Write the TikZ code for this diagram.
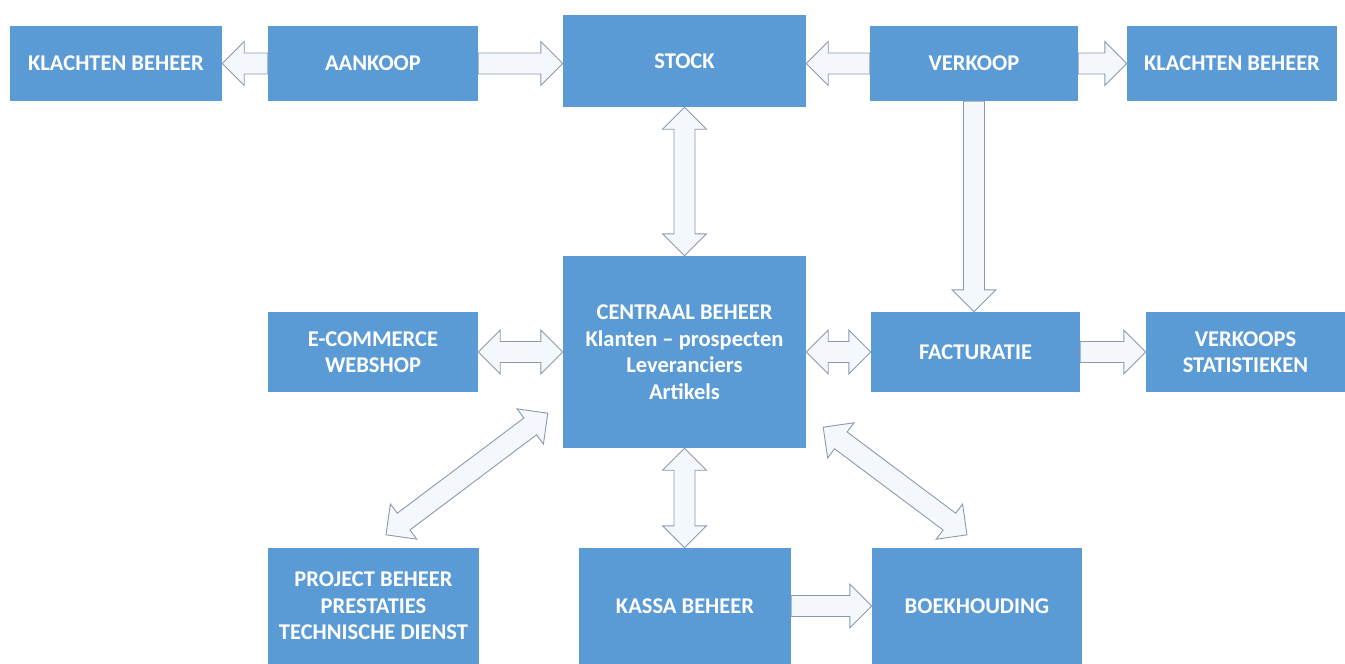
\documentclass[tikz,border=0pt]{standalone}
\usepackage{fontspec}
\setmainfont{Carlito}
\usetikzlibrary{calc}
\definecolor{boxblue}{HTML}{5B9BD5}
\definecolor{arrline}{HTML}{8A9AAE}
\definecolor{arrfill}{HTML}{F4F7FB}
\def\sw{10.5pt}\def\hw{22pt}\def\ahl{22pt}
\newcommand\sarr[2]{%
 \path (#1) coordinate (tS) (#2) coordinate (tE);
 \path ($(tE)!\ahl!(tS)$) coordinate (tH);
 \draw[blockarrow] ($(tS)!\sw!90:(tE)$) -- ($(tH)!\sw!-90:(tS)$) -- ($(tH)!\hw!-90:(tS)$) -- (tE) -- ($(tH)!\hw!90:(tS)$) -- ($(tH)!\sw!90:(tS)$) -- ($(tS)!\sw!-90:(tE)$) -- cycle;}
\newcommand\darr[2]{%
 \path (#1) coordinate (tS) (#2) coordinate (tE);
 \path ($(tS)!\ahl!(tE)$) coordinate (tA) ($(tE)!\ahl!(tS)$) coordinate (tB);
 \draw[blockarrow] (tS) -- ($(tA)!\hw!90:(tE)$) -- ($(tA)!\sw!90:(tE)$) -- ($(tB)!\sw!-90:(tS)$) -- ($(tB)!\hw!-90:(tS)$) -- (tE) -- ($(tB)!\hw!90:(tS)$) -- ($(tB)!\sw!90:(tS)$) -- ($(tA)!\sw!-90:(tE)$) -- ($(tA)!\hw!-90:(tE)$) -- cycle;}
\begin{document}
\begin{tikzpicture}[x=1pt,y=-1pt,
  box/.style={fill=boxblue, text=white, font=\bfseries\fontsize{22.5}{26.5}\selectfont, align=center, inner sep=0pt},
  blockarrow/.style={draw=arrline, fill=arrfill, line width=0.9pt, line join=miter}]
\useasboundingbox (0,0) rectangle (1345,664);
% top row
\node[box, minimum width=212pt, minimum height=75pt] (kl1) at (116,63.5) {KLACHTEN BEHEER};
\node[box, minimum width=210pt, minimum height=75pt] (aankoop) at (373,63.5) {AANKOOP};
\node[box, minimum width=243pt, minimum height=92pt] (stock) at (684.5,61) {STOCK};
\node[box, minimum width=208pt, minimum height=75pt] (verkoop) at (974,63.5) {VERKOOP};
\node[box, minimum width=210pt, minimum height=75pt] (kl2) at (1232,63.5) {KLACHTEN BEHEER};
% middle row
\node[box, minimum width=243pt, minimum height=192pt] (centraal) at (684.5,352) {CENTRAAL BEHEER\\Klanten – prospecten\\Leveranciers\\Artikels};
\node[box, minimum width=210pt, minimum height=80pt] (webshop) at (373,352) {E-COMMERCE\\WEBSHOP};
\node[box, minimum width=209pt, minimum height=80pt] (fact) at (975.5,352) {FACTURATIE};
\node[box, minimum width=199pt, minimum height=80pt] (stats) at (1245.5,352) {VERKOOPS\\STATISTIEKEN};
% bottom row
\node[box, minimum width=211pt, minimum height=116pt] (project) at (373.5,606) {PROJECT BEHEER\\PRESTATIES\\TECHNISCHE DIENST};
\node[box, minimum width=212pt, minimum height=116pt] (kassa) at (685,606) {KASSA BEHEER};
\node[box, minimum width=210pt, minimum height=116pt] (boek) at (977,606) {BOEKHOUDING};
% free ends of the diagonal connectors
\coordinate (pA) at ($(centraal.south west)+(-15,-35)$);
\coordinate (pB) at ($(project.north)+(12.5,-13)$);
\coordinate (bA) at ($(centraal.south east)+(17,-21)$);
\coordinate (bB) at ($(boek.north)+(-10,-13)$);
% connectors
\sarr{aankoop.west}{kl1.east}
\sarr{aankoop.east}{aankoop.east -| stock.west}
\sarr{verkoop.west}{verkoop.west -| stock.east}
\sarr{verkoop.east}{kl2.west}
\darr{stock.south}{centraal.north}
\sarr{verkoop.south}{verkoop.south |- fact.north}
\darr{webshop.east}{centraal.west}
\darr{centraal.east}{fact.west}
\sarr{fact.east}{stats.west}
\darr{centraal.south}{centraal.south |- kassa.north}
\sarr{kassa.east}{boek.west}
\darr{pA}{pB}
\darr{bA}{bB}
\end{tikzpicture}
\end{document}
